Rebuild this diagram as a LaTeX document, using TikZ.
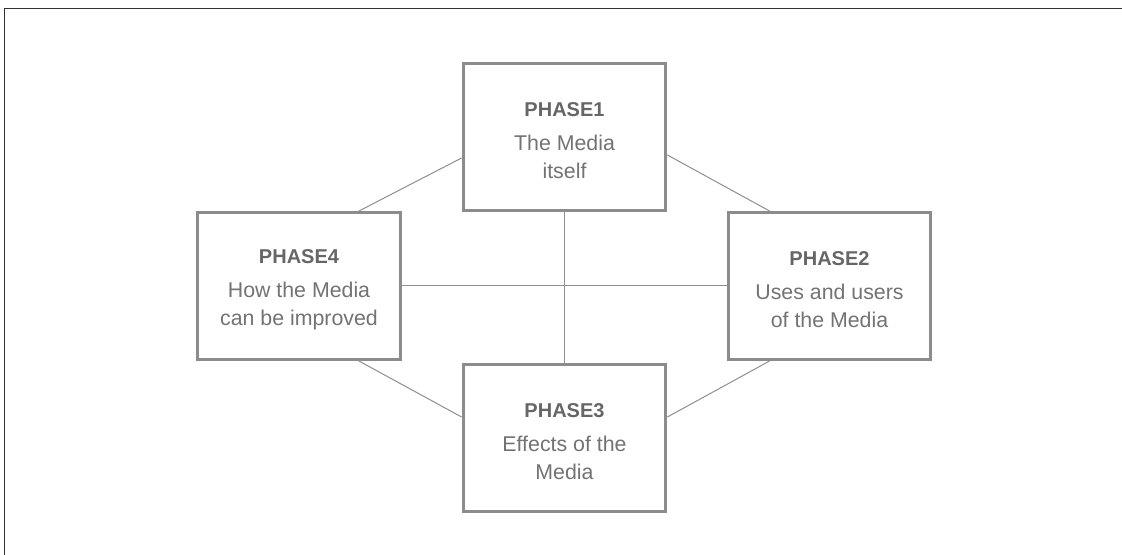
\documentclass[tikz,border=0pt]{standalone}
\usepackage{fontspec}
\setmainfont{Liberation Sans}
\usetikzlibrary{calc}
\definecolor{boxline}{HTML}{8C8C8C}
\definecolor{conn}{HTML}{8F8F8F}
\definecolor{headtxt}{HTML}{666666}
\definecolor{bodytxt}{HTML}{737373}
\definecolor{frame}{HTML}{333333}
\tikzset{
  phasebox/.style={draw=boxline, line width=2.25pt, fill=white, minimum width=152pt, minimum height=110pt, inner sep=0pt},
  phasetext/.style={inner sep=0pt, align=center, font=\fontsize{16}{21}\selectfont, text=bodytxt},
  connector/.style={draw=conn, line width=0.75pt},
}
\newcommand{\phhead}[1]{{\fontsize{15}{21}\selectfont\bfseries\color{headtxt}#1}\\[4.5pt]}
\begin{document}
\begin{tikzpicture}[x=0.75pt,y=-0.75pt]
\useasboundingbox (0,0) rectangle (1122,555);
\fill[white] (0,0) rectangle (1122,555);
\draw[frame, line width=1.3pt] (4.5,555) -- (4.5,8.5) -- (1122,8.5);
% boxes
\node[phasebox] (p1) at (564.5,137) {};
\node[phasebox] (p4) at (299,286) {};
\node[phasebox] (p2) at (829.5,286) {};
\node[phasebox] (p3) at (564.5,438) {};
% texts
\node[phasetext] (p1t) at ([yshift=-3pt]p1.center) {\phhead{PHASE1}The Media\\itself};
\node[phasetext] (p4t) at ([yshift=-3pt]p4.center) {\phhead{PHASE4}How the Media\\can be improved};
\node[phasetext] (p2t) at ([yshift=-3pt]p2.center) {\phhead{PHASE2}Uses and users\\of the Media};
\node[phasetext] (p3t) at ([yshift=-3pt]p3.center) {\phhead{PHASE3}Effects of the\\Media};
% connectors
\draw[connector] ($(p1.north west)!0.64!(p1.south west)$) -- ($(p4.north west)!0.79!(p4.north east)$);
\draw[connector] ($(p1.north east)!0.62!(p1.south east)$) -- ($(p2.north east)!0.79!(p2.north west)$);
\draw[connector] ($(p4.south west)!0.79!(p4.south east)$) -- ($(p3.south west)!0.64!(p3.north west)$);
\draw[connector] ($(p2.south east)!0.79!(p2.south west)$) -- ($(p3.south east)!0.64!(p3.north east)$);
\draw[connector] (p4.east) -- (p2.west);
\draw[connector] (p1.south) -- (p3.north);
\end{tikzpicture}
\end{document}
